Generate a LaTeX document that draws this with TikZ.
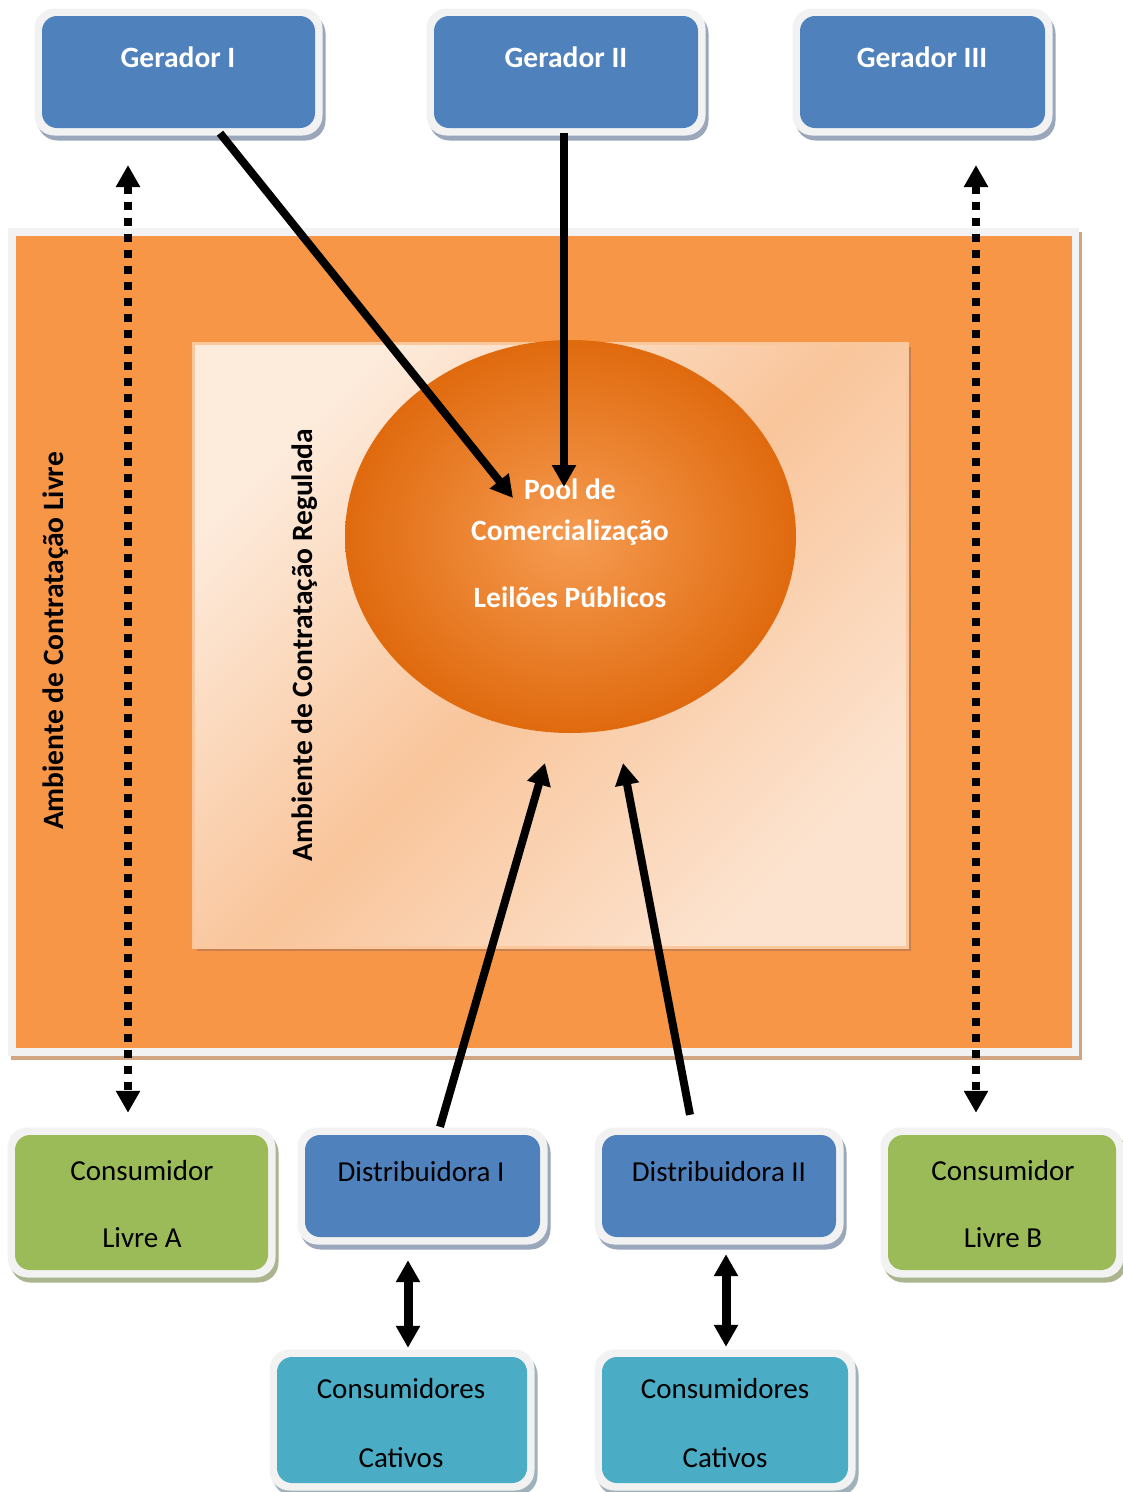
\documentclass[tikz,border=0pt]{standalone}
\usepackage{fontspec}
\setmainfont{Carlito}
\usetikzlibrary{arrows.meta,shapes.geometric,shadows,calc}
\definecolor{gblue}{HTML}{4F81BD}
\definecolor{ggreen}{HTML}{9BBB59}
\definecolor{gteal}{HTML}{4BACC6}
\definecolor{gorange}{HTML}{F79646}
\definecolor{frameG}{HTML}{F2F2F2}
\definecolor{shBlue}{HTML}{9AA7BB}
\definecolor{shGreen}{HTML}{AAB48E}
\definecolor{shTeal}{HTML}{9FB2BC}
\definecolor{shOrange}{HTML}{D2A582}
\definecolor{shInner}{HTML}{C98050}
\definecolor{peachL}{HTML}{FDEBDC}
\definecolor{peachD}{HTML}{F9C59B}
\definecolor{peachB}{HTML}{FBC79C}
\definecolor{ellC}{HTML}{F69C52}
\definecolor{ellE}{HTML}{E06A0E}
\newcommand\mkdiagbox[7]{%
  \node[frame, drop shadow={shadow xshift=3pt,shadow yshift=-5pt,fill=#7,opacity=1},
        minimum width={#4-#2+15}, minimum height={#5-#3+15}] (#1f) at ({(#2+#4)/2},{(#3+#5)/2}) {};
  \node[innerbox, fill=#6, minimum width={#4-#2}, minimum height={#5-#3}] (#1) at ({(#2+#4)/2},{(#3+#5)/2}) {};
}
\begin{document}
\begin{tikzpicture}[x=1pt,y=-1pt,
  frame/.style={fill=frameG, rounded corners=20pt, inner sep=0pt, draw=none},
  innerbox/.style={rounded corners=15pt, inner sep=0pt, draw=none},
  lbl/.style={anchor=base, inner sep=0pt, font=\fontsize{29}{34}\selectfont},
  wlbl/.style={anchor=base, inner sep=0pt, text=white, font=\fontsize{29.5}{34}\selectfont\bfseries},
  rlbl/.style={rotate=90, inner sep=0pt, font=\fontsize{29.5}{34}\selectfont\bfseries},
  thick arrow/.style={line width=8pt, -{Triangle[width=23pt,length=22pt]}},
  dotarrow/.style={line width=8pt, dash pattern=on 8pt off 8pt, {Triangle[width=23pt,length=22pt]}-{Triangle[width=23pt,length=22pt]}},
  dblarrow/.style={line width=9pt, {Triangle[width=23pt,length=22pt]}-{Triangle[width=23pt,length=22pt]}}
]
\useasboundingbox (0,0) rectangle (1123,1492);
\fill[white] (0,0) rectangle (1123,1492);

% Ambiente de Contratacao Livre
\fill[shOrange] (11,232) rectangle (1082,1060);
\fill[frameG] (8,228) rectangle (1079,1056);
\node[inner sep=0pt, fill=gorange, minimum width=1056, minimum height=812] (acl) at (544,642) {};

% Ambiente de Contratacao Regulada
\fill[shInner] (197,347) rectangle (911,951);
\node[inner sep=0pt, draw=peachB, line width=3pt, minimum width=714, minimum height=604,
      top color=peachL, bottom color=peachL!80!peachD, middle color=peachD, shading angle=45] (acr) at (550,645) {};

% Pool
\node[ellipse, inner sep=0pt, minimum width=451, minimum height=393, inner color=ellC, outer color=ellE] (pool) at (570.5,536.5) {};
\node[wlbl] (pt1) at (570,499) {Pool de};
\node[wlbl] (pt2) at (570,540) {Comercialização};
\node[wlbl] (pt3) at (570,607) {Leilões Públicos};

\node[rlbl] (livre) at (56,641) {Ambiente de Contratação Livre};
\node[rlbl] (regul) at (305,645) {Ambiente de Contratação Regulada};

% Boxes
\mkdiagbox{g1}{42}{16}{315}{128}{gblue}{shBlue}
\mkdiagbox{g2}{434}{16}{698}{128}{gblue}{shBlue}
\mkdiagbox{g3}{800}{16}{1045}{128}{gblue}{shBlue}
\mkdiagbox{cA}{15}{1135}{268}{1270}{ggreen}{shGreen}
\mkdiagbox{d1}{305}{1135}{540}{1237}{gblue}{shBlue}
\mkdiagbox{d2}{602}{1135}{836}{1237}{gblue}{shBlue}
\mkdiagbox{cB}{888}{1135}{1116}{1270}{ggreen}{shGreen}
\mkdiagbox{c1}{277}{1357}{527}{1483}{gteal}{shTeal}
\mkdiagbox{c2}{602}{1357}{848}{1483}{gteal}{shTeal}

\node[wlbl] (g1t) at (178,67) {Gerador I};
\node[wlbl] (g2t) at (566,67) {Gerador II};
\node[wlbl] (g3t) at (922,67) {Gerador III};
\node[lbl] (cAt1) at (142,1180) {Consumidor};
\node[lbl] (cAt2) at (142,1247) {Livre A};
\node[lbl] (d1t) at (421,1181) {Distribuidora I};
\node[lbl] (d2t) at (719,1181) {Distribuidora II};
\node[lbl] (cBt1) at (1003,1180) {Consumidor};
\node[lbl] (cBt2) at (1003,1247) {Livre B};
\node[lbl] (c1t1) at (401,1398) {Consumidores};
\node[lbl] (c1t2) at (401,1467) {Cativos};
\node[lbl] (c2t1) at (725,1398) {Consumidores};
\node[lbl] (c2t2) at (725,1467) {Cativos};

% Connectors
\coordinate (p1) at (513,498);
\coordinate (p2) at (564,487);
\coordinate (p3) at (545,763);
\coordinate (p4) at (623,763);
\coordinate (ltop) at (128,165);
\coordinate (rtop) at (976,165);
\draw[thick arrow] ($(g1.south)+(41.5,5)$) -- (p1);
\draw[thick arrow] ($(g2.south)+(-2,5)$) -- (p2);
\draw[thick arrow] ($(d1.north)+(17.5,-8)$) -- (p3);
\draw[thick arrow] ($(d2.north)+(-29,-20)$) -- (p4);
\draw[dotarrow] (ltop) -- ($(cA.north)+(-13.5,-22)$);
\draw[dotarrow] (rtop) -- ($(cB.north)+(-26,-22)$);
\draw[dblarrow] ($(d1.south)+(-14.5,23)$) -- ($(c1.north)+(6,-9)$);
\draw[dblarrow] ($(d2.south)+(7,17)$) -- ($(c2.north)+(1,-10)$);
\end{tikzpicture}
\end{document}
